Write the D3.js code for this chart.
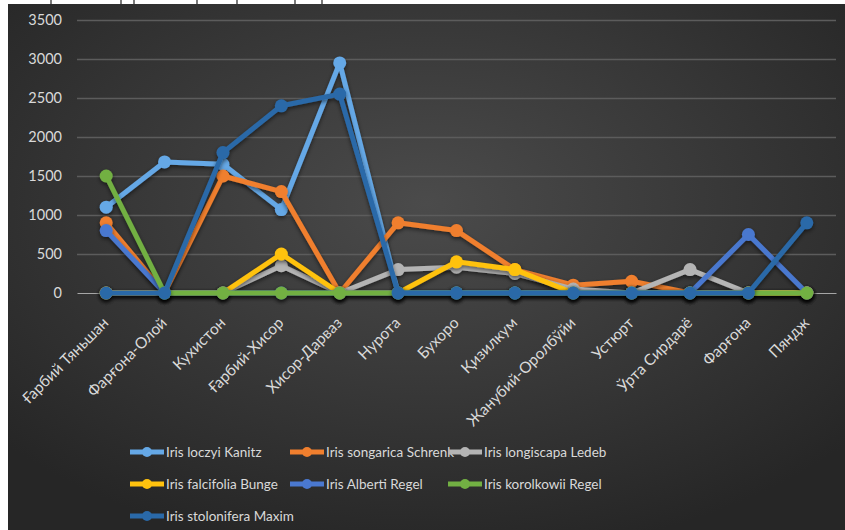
<!DOCTYPE html>
<html>
<head>
<meta charset="utf-8">
<script src="https://cdn.jsdelivr.net/npm/d3@7"></script>
<style>
  html, body { margin: 0; background: #fff; overflow: hidden; }
  svg { display: block; }
  text { font-family: Lato, "Open Sans", sans-serif; fill: #d9d9d9; }
</style>
</head>
<body>
<div id="viz"></div>
<script>
const width = 845;
const height = 530;
const margin = {top: 20, right: 9, bottom: 237, left: 77};

// regions along the x axis
const categories = ['Ғарбий Тяньшан', 'Фарғона-Олой', 'Кухистон', 'Ғарбий-Хисор', 'Хисор-Дарваз',
  'Нурота', 'Бухоро', 'Қизилкум', 'Жанубий-Оролбўйи', 'Устюрт', 'Ўрта Сирдарё', 'Фарғона', 'Пяндж'];

const yTicks = [0, 500, 1000, 1500, 2000, 2500, 3000, 3500];

const seriesNames = ['Iris loczyi Kanitz', 'Iris songarica Schrenk', 'Iris longiscapa Ledeb',
  'Iris falcifolia Bunge', 'Iris Alberti Regel', 'Iris korolkowii Regel', 'Iris stolonifera Maxim'];
const seriesColors = ['#65a8e6', '#f07f2e', '#b4b4b4', '#ffc20e', '#4a78cf', '#72b043', '#2a69a8'];

const loczyi      = [1100, 1680, 1650, 1070, 2950, 0, 0, 0, 0, 0, 0, 0, 0];
const songarica   = [900, 0, 1500, 1300, 0, 900, 800, 300, 100, 150, 0, 0, 0];
const longiscapa  = [0, 0, 0, 350, 0, 300, 330, 250, 50, 0, 300, 0, 0];
const falcifolia  = [0, 0, 0, 500, 0, 0, 400, 300, 0, 0, 0, 0, 0];
const alberti     = [800, 0, 0, 0, 0, 0, 0, 0, 0, 0, 0, 750, 0];
const korolkowii  = [1500, 0, 0, 0, 0, 0, 0, 0, 0, 0, 0, 0, 0];
const stolonifera = [0, 0, 1800, 2400, 2550, 0, 0, 0, 0, 0, 0, 0, 900];

const seriesValues = [loczyi, songarica, longiscapa, falcifolia, alberti, korolkowii, stolonifera];

const series = seriesNames.map((name, i) => ({
  name: name,
  color: seriesColors[i],
  points: categories.map((c, j) => ({cat: c, value: seriesValues[i][j]}))
}));

const svg = d3.select('#viz')
  .append('svg')
  .attr('width', width)
  .attr('height', height);

const defs = svg.append('defs');
const grad = defs.append('radialGradient')
  .attr('id', 'bg')
  .attr('cx', '50%').attr('cy', '38%').attr('r', '68%');
grad.append('stop').attr('offset', '0%').attr('stop-color', '#4b4b4b');
grad.append('stop').attr('offset', '100%').attr('stop-color', '#262626');

const shadow = defs.append('filter')
  .attr('id', 'shadow')
  .attr('x', '-20%').attr('y', '-20%').attr('width', '140%').attr('height', '140%');
shadow.append('feDropShadow')
  .attr('dx', 0).attr('dy', 2).attr('stdDeviation', 2)
  .attr('flood-color', '#000').attr('flood-opacity', 0.55);

// chart area (page is white behind it on the top and left edge)
svg.append('rect')
  .attr('x', 8).attr('y', 4)
  .attr('width', width - 8).attr('height', height - 4)
  .attr('fill', 'url(#bg)');

// bits of the cropped line of text above the chart
svg.append('g')
  .selectAll('line')
  .data([51, 121, 134, 197, 237, 295, 322])
  .join('line')
  .attr('x1', d => d).attr('x2', d => d)
  .attr('y1', 0).attr('y2', 4)
  .attr('stroke', '#222').attr('stroke-width', 1.2);

const x = d3.scalePoint()
  .domain(categories)
  .range([margin.left, width - margin.right])
  .padding(0.5);

const y = d3.scaleLinear()
  .domain([0, 3500])
  .range([height - margin.bottom, margin.top]);

// gridlines
svg.append('g')
  .attr('transform', `translate(${margin.left}, 0)`)
  .call(d3.axisLeft(y).tickValues(yTicks.slice(1)).tickSize(-(width - margin.right - margin.left)).tickFormat(''))
  .call(g => g.select('.domain').remove())
  .call(g => g.selectAll('line').attr('stroke', '#5c5c5c').attr('stroke-width', 1.3));

// y axis labels
svg.append('g')
  .attr('transform', `translate(${margin.left}, 0)`)
  .call(d3.axisLeft(y).tickValues(yTicks).tickSize(0).tickPadding(15).tickFormat(d3.format('d')))
  .call(g => g.select('.domain').remove())
  .call(g => g.selectAll('text')
    .style('font-size', '14.5px')
    .attr('fill', '#d9d9d9'));

// x axis
const xAxis = svg.append('g')
  .attr('transform', `translate(0, ${y(0)})`)
  .call(d3.axisBottom(x).tickSize(0).tickPadding(0))
  .call(g => g.select('.domain').attr('stroke', '#a6a6a6').attr('stroke-width', 1.2));

xAxis.selectAll('text')
  .style('font-size', '15.5px')
  .attr('fill', '#d9d9d9')
  .attr('text-anchor', 'end')
  .attr('dy', '0.35em')
  .attr('transform', 'translate(-1, 27) rotate(-45)');

const line = d3.line()
  .x(d => x(d.cat))
  .y(d => y(d.value));

const groups = svg.selectAll('.series')
  .data(series)
  .join('g')
  .attr('class', 'series')
  .attr('filter', 'url(#shadow)');

groups.append('path')
  .attr('d', d => line(d.points))
  .attr('fill', 'none')
  .attr('stroke', d => d.color)
  .attr('stroke-width', 5)
  .attr('stroke-linejoin', 'round');

groups.selectAll('circle')
  .data(d => d.points.map(p => ({...p, color: d.color})))
  .join('circle')
  .attr('cx', d => x(d.cat))
  .attr('cy', d => y(d.value))
  .attr('r', 6.5)
  .attr('fill', d => d.color);

// legend
const legendCols = [130, 290, 448];
const legendRows = [452, 484, 516];

const legend = svg.selectAll('.legend')
  .data(series)
  .join('g')
  .attr('class', 'legend')
  .attr('transform', (d, i) => `translate(${legendCols[i % 3]}, ${legendRows[Math.floor(i / 3)]})`);

legend.append('line')
  .attr('x1', 0).attr('x2', 34)
  .attr('stroke', d => d.color)
  .attr('stroke-width', 5);

legend.append('circle')
  .attr('cx', 17)
  .attr('r', 5)
  .attr('fill', d => d.color);

legend.append('text')
  .attr('x', 36)
  .attr('dy', '0.35em')
  .style('font-size', '13.5px')
  .text(d => d.name);
</script>
</body>
</html>
